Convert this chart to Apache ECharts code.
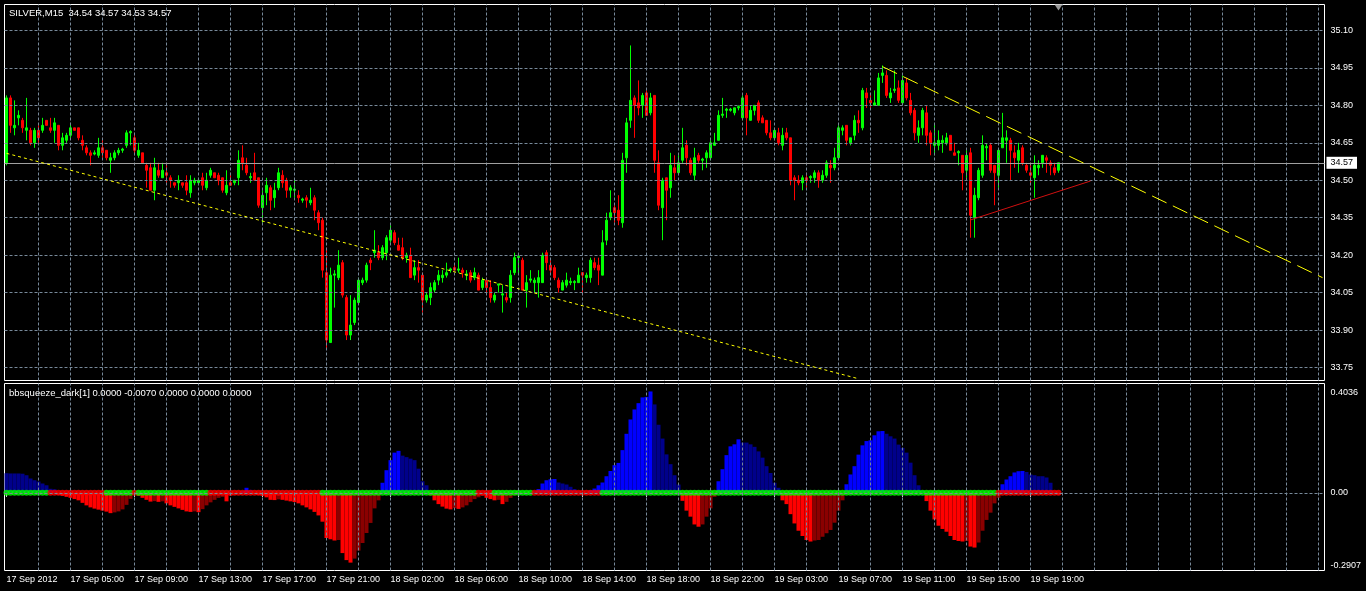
<!DOCTYPE html>
<html><head><meta charset="utf-8">
<script src="https://cdn.jsdelivr.net/npm/echarts@6/dist/echarts.min.js"></script>
<style>html,body{margin:0;padding:0;background:#000;overflow:hidden}#c{width:1366px;height:591px}</style>
</head><body><div id="c"></div>
<script>
// ---------------- DATA ----------------
const symbolName = 'SILVER,M15';
const lastQuote = [34.54, 34.57, 34.53, 34.57]; // O H L C of last bar
const currentPrice = 34.57;
const indicatorHeader = 'bbsqueeze_dark[1] 0.0000 -0.0070 0.0000 0.0000 0.0000';

// candles: [open, high, low, close], M15 bars from 17 Sep 2012 01:00
const candles = [
[34.57,34.84,34.56,34.83],[34.83,34.84,34.69,34.72],[34.71,34.82,34.68,34.72],[34.75,34.78,34.72,34.76],[34.74,34.75,34.69,34.71],
[34.70,34.83,34.66,34.71],[34.70,34.71,34.64,34.65],[34.65,34.71,34.63,34.70],[34.70,34.72,34.65,34.67],[34.70,34.75,34.69,34.72],
[34.74,34.74,34.72,34.72],[34.71,34.75,34.69,34.70],[34.70,34.75,34.65,34.73],[34.72,34.72,34.62,34.64],[34.64,34.69,34.62,34.67],
[34.66,34.69,34.65,34.68],[34.68,34.73,34.67,34.71],[34.71,34.71,34.70,34.70],[34.71,34.71,34.66,34.67],[34.66,34.68,34.62,34.64],
[34.63,34.64,34.60,34.61],[34.61,34.62,34.56,34.60],[34.605,34.62,34.60,34.61],[34.60,34.67,34.59,34.63],[34.63,34.67,34.59,34.61],
[34.62,34.62,34.58,34.59],[34.58,34.61,34.53,34.59],[34.59,34.62,34.58,34.61],[34.61,34.63,34.60,34.62],[34.62,34.63,34.61,34.625],
[34.64,34.70,34.63,34.69],[34.69,34.70,34.64,34.695],[34.67,34.69,34.60,34.62],[34.60,34.65,34.59,34.62],[34.61,34.61,34.57,34.57],
[34.56,34.57,34.47,34.54],[34.55,34.57,34.46,34.46],[34.46,34.59,34.42,34.55],[34.54,34.57,34.51,34.52],[34.51,34.57,34.51,34.54],
[34.53,34.57,34.49,34.52],[34.51,34.52,34.47,34.50],[34.49,34.49,34.47,34.48],[34.49,34.52,34.46,34.50],[34.49,34.49,34.47,34.48],
[34.49,34.52,34.44,34.46],[34.45,34.52,34.43,34.50],[34.49,34.51,34.48,34.50],[34.49,34.51,34.48,34.50],[34.51,34.53,34.46,34.48],
[34.47,34.53,34.46,34.50],[34.52,34.55,34.51,34.54],[34.53,34.53,34.51,34.51],[34.52,34.53,34.48,34.50],[34.51,34.51,34.45,34.46],
[34.45,34.54,34.44,34.48],[34.49,34.53,34.48,34.48],[34.49,34.50,34.48,34.50],[34.51,34.62,34.48,34.58],[34.59,34.64,34.54,34.57],
[34.56,34.59,34.52,34.53],[34.51,34.53,34.49,34.515],[34.53,34.61,34.50,34.50],[34.51,34.51,34.39,34.40],[34.39,34.46,34.33,34.44],
[34.45,34.51,34.40,34.48],[34.47,34.48,34.38,34.42],[34.43,34.49,34.39,34.46],[34.47,34.55,34.46,34.53],[34.52,34.54,34.47,34.49],
[34.50,34.51,34.43,34.46],[34.46,34.48,34.43,34.47],[34.46,34.50,34.43,34.465],[34.44,34.46,34.41,34.43],[34.42,34.43,34.41,34.425],
[34.43,34.44,34.39,34.42],[34.41,34.47,34.40,34.42],[34.43,34.44,34.34,34.38],[34.37,34.38,34.30,34.33],[34.34,34.35,34.11,34.14],
[34.13,34.23,33.82,33.86],[33.85,34.15,33.85,34.12],[34.12,34.14,33.99,34.125],[34.11,34.22,34.10,34.16],[34.17,34.18,34.03,34.04],
[34.03,34.04,33.86,33.88],[33.88,34.04,33.86,33.92],[33.93,34.03,33.92,34.02],[34.01,34.11,34.01,34.10],[34.09,34.11,34.08,34.10],
[34.10,34.17,34.09,34.16],[34.18,34.19,34.14,34.17],[34.21,34.30,34.19,34.22],[34.21,34.24,34.18,34.19],[34.19,34.24,34.18,34.23],
[34.21,34.28,34.18,34.27],[34.26,34.32,34.25,34.30],[34.29,34.30,34.24,34.25],[34.24,34.27,34.22,34.22],[34.23,34.27,34.18,34.19],
[34.19,34.21,34.17,34.20],[34.20,34.23,34.11,34.11],[34.12,34.18,34.10,34.15],[34.15,34.18,34.09,34.14],[34.12,34.13,33.97,34.02],
[34.02,34.05,34.01,34.04],[34.03,34.09,34.00,34.07],[34.06,34.10,34.05,34.09],[34.10,34.14,34.08,34.12],[34.11,34.14,34.09,34.12],
[34.12,34.17,34.11,34.13],[34.14,34.15,34.13,34.145],[34.15,34.16,34.14,34.14],[34.14,34.19,34.13,34.145],[34.14,34.15,34.11,34.13],
[34.12,34.14,34.10,34.125],[34.13,34.14,34.09,34.10],[34.11,34.15,34.10,34.13],[34.12,34.13,34.06,34.06],[34.07,34.11,34.06,34.10],
[34.10,34.11,34.05,34.07],[34.07,34.10,34.01,34.03],[34.02,34.05,34.01,34.04],[34.08,34.085,34.05,34.085],[34.04,34.08,33.97,34.045],
[34.03,34.05,34.01,34.02],[34.03,34.14,34.01,34.12],[34.13,34.21,34.12,34.19],[34.19,34.20,34.12,34.195],[34.18,34.19,34.06,34.06],
[34.06,34.12,33.99,34.09],[34.10,34.14,34.09,34.105],[34.09,34.11,34.05,34.10],[34.09,34.14,34.03,34.11],[34.09,34.21,34.09,34.20],
[34.21,34.22,34.14,34.17],[34.16,34.18,34.12,34.14],[34.15,34.16,34.10,34.11],[34.10,34.11,34.05,34.07],[34.06,34.10,34.06,34.09],
[34.08,34.13,34.07,34.10],[34.09,34.11,34.08,34.095],[34.09,34.10,34.06,34.095],[34.09,34.15,34.09,34.12],[34.13,34.13,34.04,34.12],
[34.11,34.13,34.09,34.12],[34.11,34.19,34.09,34.18],[34.17,34.19,34.14,34.15],[34.16,34.19,34.08,34.14],[34.12,34.30,34.12,34.25],
[34.26,34.37,34.24,34.34],[34.35,34.46,34.34,34.37],[34.39,34.40,34.33,34.37],[34.38,34.44,34.32,34.34],[34.33,34.61,34.31,34.58],
[34.59,34.75,34.53,34.73],[34.74,35.04,34.71,34.82],[34.83,34.84,34.67,34.80],[34.81,34.90,34.76,34.79],[34.80,34.85,34.75,34.84],
[34.85,34.86,34.76,34.76],[34.77,34.85,34.76,34.83],[34.84,34.84,34.53,34.58],[34.57,34.62,34.38,34.40],[34.39,34.51,34.26,34.50],
[34.51,34.51,34.34,34.46],[34.47,34.61,34.43,34.56],[34.55,34.60,34.50,34.53],[34.53,34.60,34.52,34.57],[34.58,34.71,34.57,34.63],
[34.64,34.66,34.56,34.59],[34.58,34.59,34.52,34.53],[34.52,34.63,34.50,34.59],[34.60,34.61,34.57,34.58],[34.58,34.59,34.54,34.585],
[34.59,34.62,34.55,34.61],[34.59,34.66,34.58,34.65],[34.64,34.69,34.64,34.65],[34.66,34.78,34.66,34.76],[34.76,34.83,34.75,34.765],
[34.78,34.79,34.75,34.785],[34.78,34.79,34.775,34.785],[34.77,34.79,34.76,34.79],[34.79,34.80,34.78,34.795],[34.75,34.84,34.74,34.83],
[34.84,34.85,34.68,34.75],[34.74,34.80,34.74,34.78],[34.78,34.80,34.76,34.80],[34.81,34.82,34.73,34.74],[34.75,34.76,34.73,34.73],
[34.74,34.74,34.68,34.69],[34.69,34.74,34.66,34.67],[34.67,34.71,34.66,34.70],[34.69,34.71,34.64,34.65],[34.64,34.71,34.62,34.68],
[34.69,34.71,34.66,34.67],[34.67,34.67,34.48,34.50],[34.51,34.52,34.42,34.50],[34.50,34.52,34.48,34.49],[34.49,34.52,34.46,34.51],
[34.51,34.53,34.47,34.50],[34.51,34.52,34.49,34.515],[34.51,34.54,34.49,34.53],[34.53,34.54,34.47,34.50],[34.50,34.54,34.49,34.52],
[34.52,34.58,34.51,34.57],[34.56,34.58,34.49,34.55],[34.55,34.63,34.54,34.59],[34.59,34.72,34.58,34.71],[34.70,34.72,34.68,34.71],
[34.72,34.72,34.64,34.66],[34.65,34.67,34.64,34.67],[34.68,34.76,34.66,34.74],[34.74,34.78,34.69,34.73],[34.71,34.87,34.70,34.86],
[34.85,34.87,34.79,34.83],[34.82,34.85,34.79,34.81],[34.80,34.86,34.80,34.81],[34.80,34.93,34.80,34.91],[34.92,34.96,34.89,34.93],
[34.92,34.94,34.83,34.84],[34.83,34.87,34.81,34.85],[34.86,34.94,34.85,34.865],[34.87,34.90,34.81,34.82],[34.81,34.92,34.81,34.90],
[34.89,34.91,34.82,34.83],[34.82,34.85,34.76,34.77],[34.78,34.79,34.66,34.69],[34.68,34.74,34.65,34.71],[34.71,34.79,34.68,34.78],
[34.77,34.80,34.64,34.68],[34.69,34.70,34.60,34.65],[34.64,34.73,34.60,34.65],[34.64,34.70,34.62,34.66],[34.65,34.68,34.61,34.66],
[34.65,34.69,34.64,34.67],[34.68,34.68,34.62,34.62],[34.61,34.65,34.60,34.60],[34.61,34.62,34.56,34.615],[34.60,34.60,34.46,34.53],
[34.54,34.62,34.51,34.60],[34.61,34.63,34.27,34.36],[34.35,34.47,34.27,34.44],[34.43,34.55,34.42,34.54],[34.52,34.68,34.51,34.64],
[34.63,34.645,34.58,34.635],[34.64,34.65,34.53,34.54],[34.56,34.56,34.40,34.53],[34.52,34.62,34.47,34.62],[34.63,34.77,34.63,34.67],
[34.66,34.70,34.57,34.67],[34.66,34.67,34.50,34.62],[34.61,34.64,34.55,34.59],[34.58,34.65,34.53,34.62],[34.63,34.64,34.56,34.57],
[34.56,34.57,34.53,34.54],[34.53,34.57,34.48,34.52],[34.51,34.60,34.43,34.56],[34.55,34.58,34.52,34.56],[34.57,34.60,34.55,34.60],
[34.59,34.60,34.53,34.58],[34.57,34.58,34.52,34.56],[34.55,34.57,34.52,34.53],[34.54,34.57,34.53,34.57]
];

// bbsqueeze histogram, one value per bar
const squeezeHist = [
0.078,0.077,0.077,0.077,0.076,0.070,0.057,0.050,0.045,0.037,
0.030,0.016,0.014,-0.008,-0.012,-0.016,-0.020,-0.025,-0.030,-0.040,
-0.050,-0.058,-0.063,-0.067,-0.071,-0.075,-0.081,-0.078,-0.074,-0.066,
-0.048,-0.024,-0.006,-0.012,-0.020,-0.028,-0.035,-0.033,-0.036,-0.034,
-0.042,-0.050,-0.056,-0.062,-0.068,-0.074,-0.076,-0.074,-0.077,-0.065,
-0.050,-0.038,-0.028,-0.020,-0.016,-0.034,-0.012,-0.008,-0.003,0.006,
0.020,0.012,-0.004,-0.008,-0.012,-0.018,-0.028,-0.029,-0.026,-0.028,
-0.031,-0.034,-0.037,-0.042,-0.050,-0.058,-0.066,-0.076,-0.090,-0.115,
-0.180,-0.185,-0.190,-0.188,-0.240,-0.268,-0.278,-0.262,-0.230,-0.200,
-0.160,-0.120,-0.062,-0.030,0.040,0.090,0.130,0.160,0.167,0.148,
0.142,0.136,0.130,0.096,0.046,0.030,-0.010,-0.030,-0.045,-0.055,
-0.063,-0.066,-0.061,-0.064,-0.058,-0.050,-0.037,-0.025,-0.018,-0.012,
-0.020,-0.025,-0.030,-0.028,-0.045,-0.036,-0.020,-0.010,-0.005,-0.003,
-0.002,-0.001,0.005,0.015,0.037,0.050,0.054,0.055,0.041,0.037,
0.033,0.024,0.015,0.006,0.002,0.001,0.010,0.017,0.030,0.041,
0.066,0.087,0.110,0.119,0.170,0.235,0.292,0.332,0.357,0.380,
0.382,0.4036,0.352,0.271,0.216,0.153,0.114,0.070,0.033,-0.032,
-0.071,-0.095,-0.126,-0.135,-0.126,-0.095,-0.062,-0.016,0.046,0.094,
0.150,0.185,0.193,0.213,0.200,0.200,0.193,0.183,0.165,0.140,
0.106,0.079,0.040,0.020,-0.030,-0.045,-0.085,-0.122,-0.151,-0.172,
-0.188,-0.194,-0.190,-0.188,-0.175,-0.161,-0.148,-0.119,-0.071,-0.030,
0.034,0.073,0.106,0.152,0.189,0.206,0.209,0.229,0.245,0.246,
0.235,0.225,0.216,0.192,0.179,0.160,0.120,0.070,0.030,0.010,
-0.033,-0.071,-0.106,-0.131,-0.144,-0.155,-0.172,-0.188,-0.192,-0.194,
-0.192,-0.214,-0.218,-0.198,-0.151,-0.108,-0.079,-0.042,-0.020,0.034,
0.053,0.066,0.081,0.086,0.087,0.083,0.073,0.070,0.066,0.066,
0.061,0.040,0.005,-0.007
];

// squeeze state runs on the zero line: [fromBar, toBar, 1 = off (green) / 0 = on (red)]
const squeezeRuns = [[0,10,1],[11,24,0],[25,31,1],[32,32,0],[33,50,1],[51,78,0],[79,117,1],[118,121,0],[122,131,1],[132,148,0],[149,247,1],[248,263,0]];

// time axis labels, one every 16 bars
const timeLabels = ['17 Sep 2012','17 Sep 05:00','17 Sep 09:00','17 Sep 13:00','17 Sep 17:00','17 Sep 21:00','18 Sep 02:00','18 Sep 06:00','18 Sep 10:00','18 Sep 14:00','18 Sep 18:00','18 Sep 22:00','19 Sep 03:00','19 Sep 07:00','19 Sep 11:00','19 Sep 15:00','19 Sep 19:00'];
const priceTicks = [33.75, 33.90, 34.05, 34.20, 34.35, 34.50, 34.65, 34.80, 34.95, 35.10];
const indicatorTicks = [0.4036, 0.00, -0.2907];

// trend lines: [barIndex, price] endpoints
const supportLine = [[0, 34.608], [213, 33.705]];
const resistLine = [[219, 34.955], [329, 34.110]];
const triangleLine = [[241, 34.341], [271, 34.497]];

// ---------------- CHART ----------------
const SLOTS = 330, LABEL_EVERY = 16, GRID_EVERY = 8;
const cats = Array.from({length: SLOTS}, (_, i) => 'b' + i);
const FONT = 'Liberation Sans';
const gridColor = '#778899';
const dash = [3, 2];
const yMin = 33.698, yMax = 35.204;
const iMin = -0.3094, iMax = 0.4353;

const vGrid = [];
for (let i = GRID_EVERY; i < SLOTS; i += GRID_EVERY) vGrid.push({xAxis: cats[i]});

const gridLineStyle = {color: gridColor, type: dash, width: 1};
const rightLabel = (txt) => ({show: true, position: 'end', formatter: txt, color: '#fff', fontSize: 9, fontFamily: FONT, distance: 6});

const priceMarks = priceTicks.map(v => ({yAxis: v, label: rightLabel(v.toFixed(2)), lineStyle: gridLineStyle}));
const indMarks = indicatorTicks.map(v => ({
  yAxis: v,
  label: rightLabel(v === 0 ? '0.00' : String(v)),
  lineStyle: v === 0 ? gridLineStyle : {color: 'rgba(0,0,0,0)', width: 0}
}));

function histColor(i) {
  const v = squeezeHist[i];
  const p = i > 0 ? squeezeHist[i - 1] : v;
  if (v >= 0) return v > p ? '#0000ff' : '#00008b';
  return v < p ? '#ff0000' : '#8b0000';
}

const dots = [];
squeezeRuns.forEach(([a, b, g]) => {
  for (let i = a; i <= b; i++) dots.push({value: [cats[i], 0], itemStyle: {color: g ? '#00ff00' : '#ff0000'}});
});

const seg = (pts, color, type) => [
  {coord: [cats[pts[0][0]], pts[0][1]], lineStyle: {color, type, width: 1}},
  {coord: [cats[pts[1][0]], pts[1][1]]}
];

const showLabelAt = (idx) => idx % LABEL_EVERY === 0 && idx / LABEL_EVERY < timeLabels.length;
const nulls = cats.map(() => null);
const header = symbolName + '  ' + lastQuote.map(v => v.toFixed(2)).join(' ');

const chart = echarts.init(document.getElementById('c'));
chart.setOption({
  backgroundColor: '#000',
  animation: false,
  title: [
    {text: header, left: 9, top: 8, padding: 0, textStyle: {color: '#fff', fontSize: 9.5, fontWeight: 'normal', fontFamily: FONT}},
    {text: indicatorHeader, left: 9, top: 388.5, padding: 0, textStyle: {color: '#fff', fontSize: 9.5, fontWeight: 'normal', fontFamily: FONT}}
  ],
  grid: [
    {left: 4.5, top: 4.5, width: 1320, height: 376, show: true, borderColor: '#fff', borderWidth: 1, backgroundColor: '#000'},
    {left: 4.5, top: 383.5, width: 1320, height: 187, show: true, borderColor: '#fff', borderWidth: 1, backgroundColor: '#000'}
  ],
  xAxis: [
    {type: 'category', gridIndex: 0, data: cats, boundaryGap: true, axisLine: {show: false}, axisTick: {show: false}, axisLabel: {show: false}, splitLine: {show: false}},
    {type: 'category', gridIndex: 1, data: cats, boundaryGap: true, axisLine: {show: false},
     axisTick: {show: true, alignWithLabel: true, interval: (i) => showLabelAt(i), length: 4, lineStyle: {color: '#fff'}},
     axisLabel: {show: true, interval: (i) => showLabelAt(i), formatter: (v, i) => timeLabels[i / LABEL_EVERY] || '', align: 'left', color: '#fff', fontSize: 9, fontFamily: FONT, margin: 5},
     splitLine: {show: false}}
  ],
  yAxis: [
    {type: 'value', gridIndex: 0, min: yMin, max: yMax, show: false, splitLine: {show: false}},
    {type: 'value', gridIndex: 1, min: iMin, max: iMax, show: false, splitLine: {show: false}}
  ],
  series: [
    {type: 'line', xAxisIndex: 0, yAxisIndex: 0, data: nulls, z: 1, silent: true, showSymbol: false,
     markLine: {silent: true, symbol: ['none', 'none'], label: {show: false}, lineStyle: gridLineStyle, data: vGrid.concat(priceMarks)}},
    {type: 'candlestick', xAxisIndex: 0, yAxisIndex: 0, z: 2, barWidth: 2,
     data: candles.map(c => [c[0], c[3], c[2], c[1]]),
     itemStyle: {color: '#00ff00', color0: '#ff0000', borderColor: '#00ff00', borderColor0: '#ff0000', borderColorDoji: '#00ff00', borderWidth: 1},
     markPoint: {silent: true, symbol: 'triangle', symbolRotate: 180, symbolSize: [8, 6], symbolOffset: [0, 3], label: {show: false}, itemStyle: {color: '#9a9a9a'},
       data: [{coord: [cats[candles.length - 1], yMax]}]}},
    {type: 'line', xAxisIndex: 0, yAxisIndex: 0, data: nulls, z: 3, silent: true, showSymbol: false,
     markLine: {silent: true, symbol: ['none', 'none'], label: {show: false},
       data: [
         {yAxis: currentPrice, lineStyle: {color: '#a0a0a0', type: 'solid', width: 1},
          label: {show: true, position: 'end', formatter: currentPrice.toFixed(2), color: '#000', backgroundColor: '#fff', padding: [2, 4, 1, 4], fontSize: 9, fontFamily: FONT, distance: 2}},
         seg(supportLine, '#ffff00', [3, 3]),
         seg(resistLine, '#ffff00', [16, 7]),
         seg(triangleLine, '#d01010', 'solid')
       ]}},
    {type: 'line', xAxisIndex: 1, yAxisIndex: 1, data: nulls, z: 1, silent: true, showSymbol: false,
     markLine: {silent: true, symbol: ['none', 'none'], label: {show: false}, lineStyle: gridLineStyle, data: vGrid.concat(indMarks)}},
    {type: 'bar', xAxisIndex: 1, yAxisIndex: 1, z: 2, barCategoryGap: '0%', barGap: '0%',
     data: squeezeHist.map((v, i) => ({value: v, itemStyle: {color: histColor(i)}}))},
    {type: 'scatter', xAxisIndex: 1, yAxisIndex: 1, z: 3, symbol: 'circle', symbolSize: 6, silent: true, data: dots}
  ]
});
</script>
</body></html>
